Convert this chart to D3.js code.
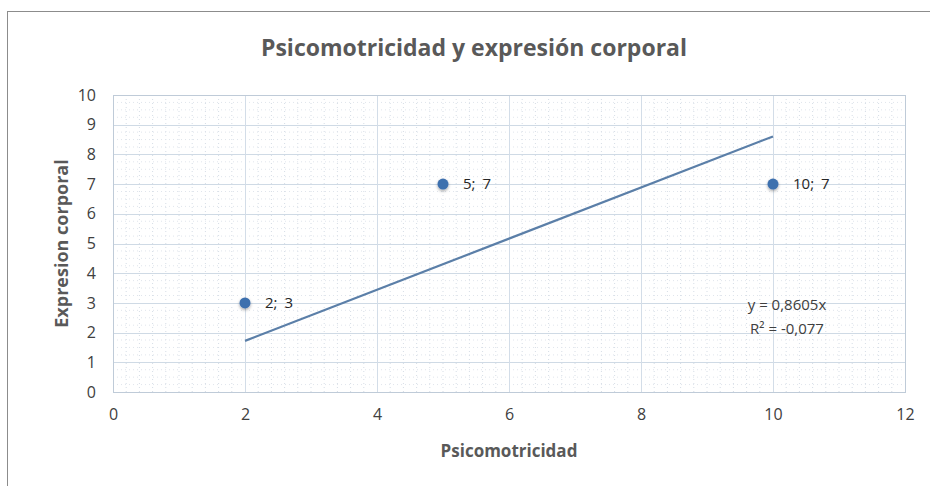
<!DOCTYPE html>
<html>
<head>
<meta charset="utf-8">
<script src="https://cdn.jsdelivr.net/npm/d3@7"></script>
<style>
body { margin: 0; background: #fff; }
</style>
</head>
<body>
<div id="chart"></div>
<script>
// Data
const xValues = [2, 5, 10];
const yValues = [3, 7, 7];
const pointLabels = ["2; 3", "5; 7", "10; 7"];
const trendSlope = 0.8605;
const trendText = ["y = 0,8605x", "R² = -0,077"];
const xTicks = [0, 2, 4, 6, 8, 10, 12];
const yTicks = [0, 1, 2, 3, 4, 5, 6, 7, 8, 9, 10];

const width = 930, height = 486;
const margin = {top: 95, right: 25, bottom: 94, left: 113};
const font = "'Open Sans', sans-serif";

const svg = d3.select("#chart")
  .append("svg")
  .attr("width", width)
  .attr("height", height)
  .style("font-family", font);

// chart box border
svg.append("rect")
  .attr("x", 7.5).attr("y", 11.5)
  .attr("width", width).attr("height", height)
  .attr("fill", "#fff")
  .attr("stroke", "#8c8c8c");

const x = d3.scaleLinear().domain([0, 12]).range([margin.left, width - margin.right]);
const y = d3.scaleLinear().domain([0, 10]).range([height - margin.bottom, margin.top]);

// minor dotted grid
const minorX = d3.range(0.2, 12, 0.2).filter(v => Math.abs(v / 2 - Math.round(v / 2)) > 1e-6);
const minorY = d3.range(0.25, 10, 0.25).filter(v => Math.abs(v - Math.round(v)) > 1e-6);
svg.append("g").selectAll("line")
  .data(minorX).enter().append("line")
  .attr("x1", d => x(d)).attr("x2", d => x(d))
  .attr("y1", y(10)).attr("y2", y(0))
  .attr("stroke", "#d6dde6")
  .attr("stroke-dasharray", "1,3");
svg.append("g").selectAll("line")
  .data(minorY).enter().append("line")
  .attr("x1", x(0)).attr("x2", x(12))
  .attr("y1", d => y(d)).attr("y2", d => y(d))
  .attr("stroke", "#e0e5ec")
  .attr("stroke-dasharray", "1,3");

// major grid
svg.append("g").selectAll("line")
  .data(yTicks).enter().append("line")
  .attr("x1", x(0)).attr("x2", x(12))
  .attr("y1", d => Math.round(y(d)) + 0.5).attr("y2", d => Math.round(y(d)) + 0.5)
  .attr("stroke", "#cfdae5");
svg.append("g").selectAll("line")
  .data(xTicks).enter().append("line")
  .attr("x1", d => Math.round(x(d)) + 0.5).attr("x2", d => Math.round(x(d)) + 0.5)
  .attr("y1", y(10)).attr("y2", y(0))
  .attr("stroke", "#d3dde8");

// plot area border
svg.append("rect")
  .attr("x", Math.round(x(0)) + 0.5).attr("y", Math.round(y(10)) + 0.5)
  .attr("width", x(12) - x(0)).attr("height", y(0) - y(10))
  .attr("fill", "none")
  .attr("stroke", "#bfcbd8");

// axes (labels only)
const xAxis = svg.append("g")
  .attr("transform", `translate(0,${y(0) + 11})`)
  .call(d3.axisBottom(x).tickValues(xTicks).tickSize(0).tickPadding(6));
const yAxis = svg.append("g")
  .attr("transform", `translate(${x(0) - 15},0)`)
  .call(d3.axisLeft(y).tickValues(yTicks).tickSize(0).tickPadding(2));
[xAxis, yAxis].forEach(a => {
  a.select(".domain").remove();
  a.selectAll("text")
    .style("font-family", font)
    .style("font-size", "16px")
    .attr("fill", "#404040");
});

// trendline
svg.append("line")
  .attr("x1", x(d3.min(xValues))).attr("y1", y(trendSlope * d3.min(xValues)))
  .attr("x2", x(d3.max(xValues))).attr("y2", y(trendSlope * d3.max(xValues)))
  .attr("stroke", "#5b7fa8")
  .attr("stroke-width", 2.2);

// points with soft shadow
const defs = svg.append("defs");
const filt = defs.append("filter").attr("id", "shadow")
  .attr("x", "-100%").attr("y", "-100%").attr("width", "300%").attr("height", "300%");
filt.append("feDropShadow")
  .attr("dx", 0).attr("dy", 1.5).attr("stdDeviation", 1.5)
  .attr("flood-color", "#000").attr("flood-opacity", 0.35);

const pts = xValues.map((v, i) => ({x: v, y: yValues[i], label: pointLabels[i]}));
svg.append("g").selectAll("circle")
  .data(pts).enter().append("circle")
  .attr("cx", d => x(d.x)).attr("cy", d => y(d.y))
  .attr("r", 5.5)
  .attr("fill", "#3d6fae")
  .attr("filter", "url(#shadow)");

svg.append("g").selectAll("text")
  .data(pts).enter().append("text")
  .attr("x", d => x(d.x) + 20).attr("y", d => y(d.y) + 5)
  .style("font-size", "15px")
  .style("word-spacing", "3px")
  .attr("fill", "#262626")
  .text(d => d.label);

// trendline equation
svg.append("g").selectAll("text")
  .data(trendText).enter().append("text")
  .attr("x", x(10) + 14).attr("y", (d, i) => y(2.75) + i * 24)
  .attr("text-anchor", "middle")
  .style("font-size", "15px")
  .attr("fill", "#404040")
  .text(d => d);

// title
svg.append("text")
  .attr("x", 474).attr("y", 56)
  .attr("text-anchor", "middle")
  .style("font-size", "23px")
  .style("font-weight", "bold")
  .attr("fill", "#595959")
  .text("Psicomotricidad y expresión corporal");

// axis titles
svg.append("text")
  .attr("x", (x(0) + x(12)) / 2).attr("y", 457)
  .attr("text-anchor", "middle")
  .style("font-size", "17px")
  .style("font-weight", "bold")
  .attr("fill", "#595959")
  .text("Psicomotricidad");

svg.append("text")
  .attr("transform", `translate(68,${(y(0) + y(10)) / 2}) rotate(-90)`)
  .attr("text-anchor", "middle")
  .style("font-size", "18px")
  .style("font-weight", "bold")
  .attr("fill", "#595959")
  .text("Expresion corporal");
</script>
</body>
</html>
